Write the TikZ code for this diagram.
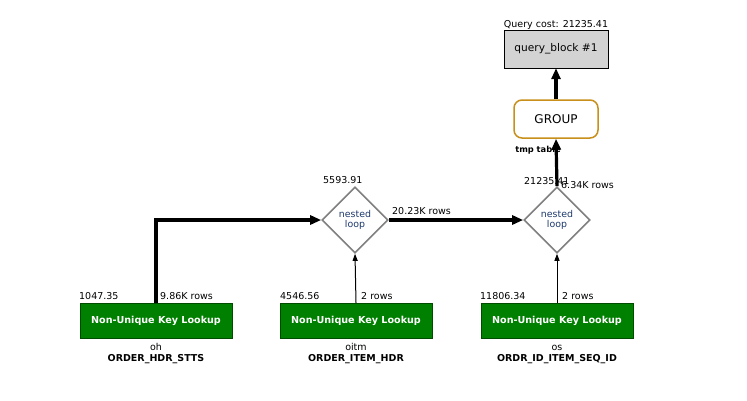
\documentclass[tikz,border=0pt]{standalone}
\usepackage{fontspec}
\setmainfont{DejaVu Sans}
\usetikzlibrary{shapes.geometric,arrows.meta}
\definecolor{lookupgreen}{HTML}{008000}
\definecolor{groupgold}{HTML}{C8901A}
\definecolor{loopblue}{HTML}{1F3A6E}
\definecolor{qbgray}{HTML}{D3D3D3}
\tikzset{
  every node/.style={font=\fontsize{9.5}{11}\selectfont, inner sep=0pt},
  lookup/.style={draw=black!70!green, fill=lookupgreen, minimum width=152pt, minimum height=35pt, text=white, font=\fontsize{9.6}{11}\selectfont\bfseries},
  loopnode/.style={diamond, draw=gray, line width=1.6pt, minimum width=66pt, minimum height=66pt, text=loopblue, align=center, font=\fontsize{9.4}{9.5}\selectfont},
  groupbox/.style={draw=groupgold, line width=1.5pt, rounded corners=8pt, minimum width=84pt, minimum height=38pt, font=\fontsize{12}{13}\selectfont},
  qbox/.style={draw=black, fill=qbgray, minimum width=104pt, minimum height=38pt, font=\fontsize{10.6}{12}\selectfont},
  bigarrow/.style={line width=3.2pt, -{Triangle[length=11pt,width=9pt]}},
  smallarrow/.style={line width=1pt, -{Triangle[length=7pt,width=5pt]}},
  lbl/.style={anchor=base west},
  boldlbl/.style={anchor=base, font=\fontsize{9.5}{11}\selectfont\bfseries},
}
\begin{document}
\begin{tikzpicture}[x=1pt,y=-1pt]
\useasboundingbox[fill=white] (0,0) rectangle (747,400);
% top
\node[qbox] (qb) at (556,49) {query\_block \#1};
\node[anchor=base] (qc) at (556,27) {Query cost: 21235.41};
\node[groupbox] (grp) at (556,119) {GROUP};
\node[anchor=base, font=\fontsize{8.3}{9}\selectfont\bfseries] (tmp) at (538,152) {tmp table};
% diamonds
\node[loopnode] (l1) at (355,220) {nested\\loop};
\node[loopnode] (l2) at (557,220) {nested\\loop};
% lookups
\node[lookup] (b1) at (156,320.5) {Non-Unique Key Lookup};
\node[lookup] (b2) at (356,320.5) {Non-Unique Key Lookup};
\node[lookup] (b3) at (557,320.5) {Non-Unique Key Lookup};
% labels below
\node[anchor=base] (t1a) at (156,350) {oh};
\node[boldlbl] (t1b) at (156,361) {ORDER\_HDR\_STTS};
\node[anchor=base] (t2a) at (356,350) {oitm};
\node[boldlbl] (t2b) at (356,361) {ORDER\_ITEM\_HDR};
\node[anchor=base] (t3a) at (557,350) {os};
\node[boldlbl] (t3b) at (557,361) {ORDR\_ID\_ITEM\_SEQ\_ID};
% cost labels
\node[lbl] (c1) at (79,299) {1047.35};
\node[lbl] (r1) at (160,299) {9.86K rows};
\node[lbl] (c2) at (280,299) {4546.56};
\node[lbl] (r2) at (361,299) {2 rows};
\node[lbl] (c3) at (480,299) {11806.34};
\node[lbl] (r3) at (562,299) {2 rows};
\node[lbl] (c4) at (323,183) {5593.91};
\node[lbl] (r4) at (392,214) {20.23K rows};
\node[lbl] (c5) at (524,184) {21235.41};
\node[lbl] (r5) at (561,188) {6.34K rows};
% connectors
\coordinate (k1) at (b1.north |- l1.west);
\draw[line width=3.2pt] (b1.north) -- (k1);
\draw[bigarrow] ([xshift=-1.6pt]k1) -- (l1.west);
\draw[bigarrow] (l1.east) -- (l2.west);
\draw[smallarrow] (b2.north) -- (l1.south);
\draw[smallarrow] (b3.north) -- (l2.south);
\draw[bigarrow] (l2.north) -- (grp.south);
\draw[bigarrow] (grp.north) -- (qb.south);
\end{tikzpicture}
\end{document}
